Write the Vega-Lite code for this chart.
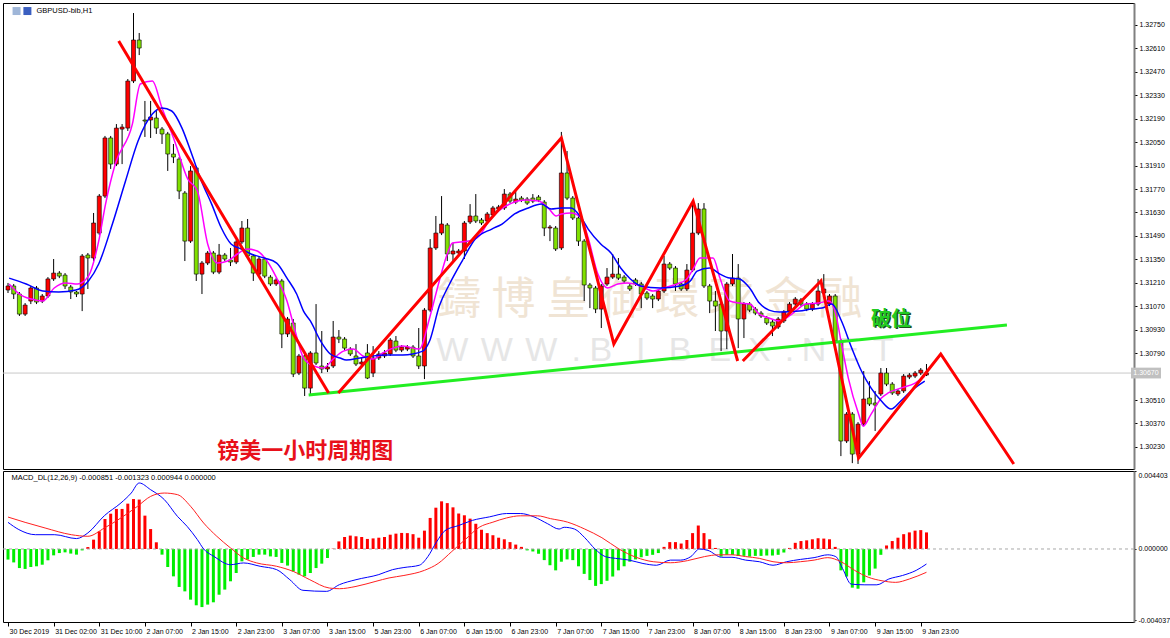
{
"$schema": "https://vega.github.io/schema/vega-lite/v6.json",
"background": "#ffffff",
"padding": {"left": 2, "top": 2, "right": 0, "bottom": 0},
"spacing": 2,
"bounds": "flush",
"resolve": {"scale": {"color": "independent"}},
"config": {
  "view": {"stroke": "#000000", "strokeWidth": 1},
  "axis": {"grid": false, "labelFont": "Liberation Sans", "labelFontSize": 7, "labelColor": "#000000", "tickColor": "#000000", "domainColor": "#808080", "title": null, "labelOverlap": false},
  "text": {"font": "Liberation Sans"}
},
"datasets": {
"candles": [
{"i":0,"o":1.31167,"h":1.31209,"l":1.31149,"c":1.31191},
{"i":1,"o":1.31191,"h":1.31203,"l":1.31113,"c":1.31143},
{"i":2,"o":1.31143,"h":1.31155,"l":1.31012,"c":1.31023},
{"i":3,"o":1.31023,"h":1.31089,"l":1.31012,"c":1.31077},
{"i":4,"o":1.31101,"h":1.31191,"l":1.31083,"c":1.31179},
{"i":5,"o":1.31179,"h":1.31191,"l":1.31083,"c":1.31095},
{"i":6,"o":1.31101,"h":1.31143,"l":1.31089,"c":1.31131},
{"i":7,"o":1.31131,"h":1.31244,"l":1.31119,"c":1.31233},
{"i":8,"o":1.31233,"h":1.31352,"l":1.31221,"c":1.31268},
{"i":9,"o":1.31268,"h":1.31280,"l":1.31238,"c":1.31250},
{"i":10,"o":1.31256,"h":1.31268,"l":1.31173,"c":1.31191},
{"i":11,"o":1.31185,"h":1.31197,"l":1.31113,"c":1.31155},
{"i":12,"o":1.31155,"h":1.31161,"l":1.31125,"c":1.31143},
{"i":13,"o":1.31143,"h":1.31382,"l":1.31041,"c":1.31370},
{"i":14,"o":1.31376,"h":1.31388,"l":1.31173,"c":1.31358},
{"i":15,"o":1.31358,"h":1.31627,"l":1.31340,"c":1.31567},
{"i":16,"o":1.31507,"h":1.31740,"l":1.31495,"c":1.31728},
{"i":17,"o":1.31728,"h":1.32087,"l":1.31716,"c":1.32075},
{"i":18,"o":1.32075,"h":1.32087,"l":1.31890,"c":1.31919},
{"i":19,"o":1.31919,"h":1.32158,"l":1.31907,"c":1.32134},
{"i":20,"o":1.32128,"h":1.32158,"l":1.31919,"c":1.32140},
{"i":21,"o":1.32134,"h":1.32427,"l":1.32117,"c":1.32415},
{"i":22,"o":1.32415,"h":1.32821,"l":1.32403,"c":1.32660},
{"i":23,"o":1.32660,"h":1.32702,"l":1.32570,"c":1.32612},
{"i":24,"o":1.32182,"h":1.32296,"l":1.32081,"c":1.32176},
{"i":25,"o":1.32182,"h":1.32296,"l":1.32075,"c":1.32200},
{"i":26,"o":1.32194,"h":1.32236,"l":1.32099,"c":1.32134},
{"i":27,"o":1.32128,"h":1.32140,"l":1.32039,"c":1.32099},
{"i":28,"o":1.32099,"h":1.32111,"l":1.31878,"c":1.31979},
{"i":29,"o":1.31979,"h":1.32039,"l":1.31925,"c":1.31961},
{"i":30,"o":1.31949,"h":1.31961,"l":1.31710,"c":1.31758},
{"i":31,"o":1.31746,"h":1.31758,"l":1.31340,"c":1.31459},
{"i":32,"o":1.31459,"h":1.31907,"l":1.31448,"c":1.31878},
{"i":33,"o":1.31896,"h":1.31907,"l":1.31221,"c":1.31262},
{"i":34,"o":1.31262,"h":1.31340,"l":1.31143,"c":1.31328},
{"i":35,"o":1.31328,"h":1.31400,"l":1.31316,"c":1.31388},
{"i":36,"o":1.31388,"h":1.31400,"l":1.31262,"c":1.31274},
{"i":37,"o":1.31274,"h":1.31442,"l":1.31262,"c":1.31376},
{"i":38,"o":1.31376,"h":1.31388,"l":1.31340,"c":1.31352},
{"i":39,"o":1.31346,"h":1.31418,"l":1.31310,"c":1.31334},
{"i":40,"o":1.31334,"h":1.31465,"l":1.31322,"c":1.31454},
{"i":41,"o":1.31454,"h":1.31579,"l":1.31442,"c":1.31537},
{"i":42,"o":1.31537,"h":1.31591,"l":1.31358,"c":1.31370},
{"i":43,"o":1.31370,"h":1.31382,"l":1.31221,"c":1.31268},
{"i":44,"o":1.31262,"h":1.31364,"l":1.31250,"c":1.31352},
{"i":45,"o":1.31352,"h":1.31364,"l":1.31238,"c":1.31250},
{"i":46,"o":1.31244,"h":1.31256,"l":1.31191,"c":1.31203},
{"i":47,"o":1.31203,"h":1.31238,"l":1.31191,"c":1.31227},
{"i":48,"o":1.31221,"h":1.31233,"l":1.30820,"c":1.30904},
{"i":49,"o":1.30904,"h":1.31006,"l":1.30886,"c":1.30994},
{"i":50,"o":1.30970,"h":1.30994,"l":1.30647,"c":1.30665},
{"i":51,"o":1.30671,"h":1.30785,"l":1.30659,"c":1.30773},
{"i":52,"o":1.30773,"h":1.30785,"l":1.30534,"c":1.30581},
{"i":53,"o":1.30581,"h":1.30802,"l":1.30546,"c":1.30791},
{"i":54,"o":1.30791,"h":1.31083,"l":1.30719,"c":1.30731},
{"i":55,"o":1.30713,"h":1.30922,"l":1.30671,"c":1.30695},
{"i":56,"o":1.30695,"h":1.30731,"l":1.30677,"c":1.30707},
{"i":57,"o":1.30713,"h":1.30982,"l":1.30701,"c":1.30886},
{"i":58,"o":1.30886,"h":1.30928,"l":1.30850,"c":1.30874},
{"i":59,"o":1.30874,"h":1.30886,"l":1.30808,"c":1.30820},
{"i":60,"o":1.30814,"h":1.30826,"l":1.30773,"c":1.30785},
{"i":61,"o":1.30773,"h":1.30844,"l":1.30713,"c":1.30725},
{"i":62,"o":1.30725,"h":1.30767,"l":1.30713,"c":1.30737},
{"i":63,"o":1.30791,"h":1.30844,"l":1.30635,"c":1.30641},
{"i":64,"o":1.30671,"h":1.30832,"l":1.30647,"c":1.30761},
{"i":65,"o":1.30761,"h":1.30802,"l":1.30749,"c":1.30785},
{"i":66,"o":1.30773,"h":1.30808,"l":1.30761,"c":1.30791},
{"i":67,"o":1.30785,"h":1.30880,"l":1.30773,"c":1.30868},
{"i":68,"o":1.30862,"h":1.30892,"l":1.30796,"c":1.30808},
{"i":69,"o":1.30808,"h":1.30838,"l":1.30796,"c":1.30826},
{"i":70,"o":1.30814,"h":1.30838,"l":1.30802,"c":1.30826},
{"i":71,"o":1.30826,"h":1.30838,"l":1.30761,"c":1.30773},
{"i":72,"o":1.30773,"h":1.30940,"l":1.30695,"c":1.30713},
{"i":73,"o":1.30713,"h":1.31059,"l":1.30635,"c":1.31047},
{"i":74,"o":1.31047,"h":1.31471,"l":1.31035,"c":1.31418},
{"i":75,"o":1.31418,"h":1.31609,"l":1.31406,"c":1.31507},
{"i":76,"o":1.31507,"h":1.31728,"l":1.31495,"c":1.31561},
{"i":77,"o":1.31555,"h":1.31567,"l":1.31340,"c":1.31382},
{"i":78,"o":1.31382,"h":1.31448,"l":1.31340,"c":1.31400},
{"i":79,"o":1.31388,"h":1.31412,"l":1.31376,"c":1.31400},
{"i":80,"o":1.31400,"h":1.31579,"l":1.31352,"c":1.31567},
{"i":81,"o":1.31573,"h":1.31680,"l":1.31561,"c":1.31609},
{"i":82,"o":1.31609,"h":1.31740,"l":1.31567,"c":1.31579},
{"i":83,"o":1.31585,"h":1.31597,"l":1.31555,"c":1.31567},
{"i":84,"o":1.31579,"h":1.31633,"l":1.31567,"c":1.31621},
{"i":85,"o":1.31615,"h":1.31669,"l":1.31603,"c":1.31657},
{"i":86,"o":1.31651,"h":1.31675,"l":1.31639,"c":1.31663},
{"i":87,"o":1.31657,"h":1.31770,"l":1.31645,"c":1.31740},
{"i":88,"o":1.31740,"h":1.31752,"l":1.31686,"c":1.31698},
{"i":89,"o":1.31692,"h":1.31758,"l":1.31680,"c":1.31710},
{"i":90,"o":1.31716,"h":1.31728,"l":1.31692,"c":1.31704},
{"i":91,"o":1.31710,"h":1.31722,"l":1.31675,"c":1.31686},
{"i":92,"o":1.31716,"h":1.31740,"l":1.31686,"c":1.31698},
{"i":93,"o":1.31722,"h":1.31734,"l":1.31692,"c":1.31704},
{"i":94,"o":1.31692,"h":1.31704,"l":1.31489,"c":1.31537},
{"i":95,"o":1.31537,"h":1.31555,"l":1.31459,"c":1.31543},
{"i":96,"o":1.31537,"h":1.31549,"l":1.31400,"c":1.31412},
{"i":97,"o":1.31418,"h":1.32111,"l":1.31406,"c":1.31866},
{"i":98,"o":1.31866,"h":1.31997,"l":1.31704,"c":1.31716},
{"i":99,"o":1.31716,"h":1.31728,"l":1.31585,"c":1.31597},
{"i":100,"o":1.31597,"h":1.31609,"l":1.31430,"c":1.31459},
{"i":101,"o":1.31459,"h":1.31471,"l":1.31101,"c":1.31197},
{"i":102,"o":1.31197,"h":1.31209,"l":1.31059,"c":1.31179},
{"i":103,"o":1.31179,"h":1.31191,"l":1.31029,"c":1.31053},
{"i":104,"o":1.31053,"h":1.31203,"l":1.30940,"c":1.31191},
{"i":105,"o":1.31203,"h":1.31298,"l":1.31191,"c":1.31244},
{"i":106,"o":1.31244,"h":1.31382,"l":1.31233,"c":1.31262},
{"i":107,"o":1.31262,"h":1.31358,"l":1.31227,"c":1.31238},
{"i":108,"o":1.31244,"h":1.31256,"l":1.31209,"c":1.31221},
{"i":109,"o":1.31191,"h":1.31203,"l":1.31161,"c":1.31173},
{"i":110,"o":1.31227,"h":1.31238,"l":1.31191,"c":1.31203},
{"i":111,"o":1.31203,"h":1.31215,"l":1.31059,"c":1.31143},
{"i":112,"o":1.31149,"h":1.31161,"l":1.31107,"c":1.31119},
{"i":113,"o":1.31131,"h":1.31143,"l":1.31059,"c":1.31113},
{"i":114,"o":1.31113,"h":1.31173,"l":1.31101,"c":1.31161},
{"i":115,"o":1.31161,"h":1.31370,"l":1.31149,"c":1.31322},
{"i":116,"o":1.31322,"h":1.31334,"l":1.31286,"c":1.31298},
{"i":117,"o":1.31298,"h":1.31310,"l":1.31161,"c":1.31203},
{"i":118,"o":1.31203,"h":1.31215,"l":1.31161,"c":1.31173},
{"i":119,"o":1.31173,"h":1.31322,"l":1.31161,"c":1.31286},
{"i":120,"o":1.31286,"h":1.31686,"l":1.31274,"c":1.31507},
{"i":121,"o":1.31507,"h":1.31686,"l":1.31495,"c":1.31651},
{"i":122,"o":1.31651,"h":1.31686,"l":1.31179,"c":1.31191},
{"i":123,"o":1.31191,"h":1.31203,"l":1.31029,"c":1.31101},
{"i":124,"o":1.31101,"h":1.31161,"l":1.30922,"c":1.31071},
{"i":125,"o":1.31083,"h":1.31101,"l":1.30802,"c":1.30922},
{"i":126,"o":1.30922,"h":1.31215,"l":1.30814,"c":1.31203},
{"i":127,"o":1.31203,"h":1.31382,"l":1.31191,"c":1.31238},
{"i":128,"o":1.31238,"h":1.31322,"l":1.30820,"c":1.30994},
{"i":129,"o":1.30994,"h":1.31095,"l":1.30880,"c":1.31083},
{"i":130,"o":1.31083,"h":1.31095,"l":1.31035,"c":1.31047},
{"i":131,"o":1.31053,"h":1.31065,"l":1.31017,"c":1.31029},
{"i":132,"o":1.31029,"h":1.31041,"l":1.31000,"c":1.31012},
{"i":133,"o":1.31000,"h":1.31012,"l":1.30958,"c":1.30970},
{"i":134,"o":1.30976,"h":1.30988,"l":1.30892,"c":1.30952},
{"i":135,"o":1.30946,"h":1.31006,"l":1.30934,"c":1.30994},
{"i":136,"o":1.30982,"h":1.31047,"l":1.30970,"c":1.31035},
{"i":137,"o":1.31041,"h":1.31095,"l":1.31029,"c":1.31083},
{"i":138,"o":1.31083,"h":1.31125,"l":1.31071,"c":1.31113},
{"i":139,"o":1.31107,"h":1.31119,"l":1.31071,"c":1.31083},
{"i":140,"o":1.31083,"h":1.31095,"l":1.31041,"c":1.31053},
{"i":141,"o":1.31053,"h":1.31095,"l":1.31041,"c":1.31083},
{"i":142,"o":1.31083,"h":1.31233,"l":1.31071,"c":1.31161},
{"i":143,"o":1.31149,"h":1.31262,"l":1.31137,"c":1.31173},
{"i":144,"o":1.31083,"h":1.31143,"l":1.31071,"c":1.31131},
{"i":145,"o":1.31131,"h":1.31143,"l":1.30850,"c":1.30862},
{"i":146,"o":1.30862,"h":1.30874,"l":1.30175,"c":1.30265},
{"i":147,"o":1.30265,"h":1.30438,"l":1.30253,"c":1.30426},
{"i":148,"o":1.30426,"h":1.30438,"l":1.30133,"c":1.30187},
{"i":149,"o":1.30187,"h":1.30378,"l":1.30128,"c":1.30366},
{"i":150,"o":1.30366,"h":1.30683,"l":1.30354,"c":1.30516},
{"i":151,"o":1.30522,"h":1.30623,"l":1.30474,"c":1.30486},
{"i":152,"o":1.30492,"h":1.30564,"l":1.30325,"c":1.30480},
{"i":153,"o":1.30546,"h":1.30701,"l":1.30534,"c":1.30671},
{"i":154,"o":1.30671,"h":1.30701,"l":1.30593,"c":1.30605},
{"i":155,"o":1.30605,"h":1.30617,"l":1.30540,"c":1.30552},
{"i":156,"o":1.30546,"h":1.30575,"l":1.30534,"c":1.30564},
{"i":157,"o":1.30564,"h":1.30665,"l":1.30552,"c":1.30653},
{"i":158,"o":1.30647,"h":1.30671,"l":1.30635,"c":1.30659},
{"i":159,"o":1.30653,"h":1.30683,"l":1.30641,"c":1.30671},
{"i":160,"o":1.30671,"h":1.30701,"l":1.30659,"c":1.30689},
{"i":161,"o":1.30659,"h":1.30725,"l":1.30653,"c":1.30671}
],
"ma": [
{"s":"fast","i":0.2,"p":1.31203},{"s":"fast","i":2.0,"p":1.31143},{"s":"fast","i":4.1,"p":1.31113},{"s":"fast","i":6.1,"p":1.31101},{"s":"fast","i":8.1,"p":1.31179},{"s":"fast","i":10.1,"p":1.31209},{"s":"fast","i":12.2,"p":1.31203},{"s":"fast","i":14.1,"p":1.31250},{"s":"fast","i":15.9,"p":1.31459},{"s":"fast","i":17.1,"p":1.31680},{"s":"fast","i":18.8,"p":1.31919},{"s":"fast","i":21.8,"p":1.32158},{"s":"fast","i":23.2,"p":1.32397},{"s":"fast","i":25.3,"p":1.32415},{"s":"fast","i":27.0,"p":1.32254},{"s":"fast","i":29.2,"p":1.32057},{"s":"fast","i":31.5,"p":1.31830},{"s":"fast","i":33.2,"p":1.31758},{"s":"fast","i":35.0,"p":1.31442},{"s":"fast","i":36.7,"p":1.31328},{"s":"fast","i":38.5,"p":1.31340},{"s":"fast","i":40.2,"p":1.31382},{"s":"fast","i":41.9,"p":1.31412},{"s":"fast","i":43.7,"p":1.31400},{"s":"fast","i":45.4,"p":1.31340},{"s":"fast","i":47.1,"p":1.31238},{"s":"fast","i":48.9,"p":1.31101},{"s":"fast","i":50.1,"p":1.30952},{"s":"fast","i":51.8,"p":1.30761},{"s":"fast","i":53.6,"p":1.30713},{"s":"fast","i":55.3,"p":1.30701},{"s":"fast","i":57.0,"p":1.30755},{"s":"fast","i":58.8,"p":1.30802},{"s":"fast","i":60.5,"p":1.30814},{"s":"fast","i":62.2,"p":1.30773},{"s":"fast","i":64.0,"p":1.30755},{"s":"fast","i":65.7,"p":1.30791},{"s":"fast","i":67.5,"p":1.30820},{"s":"fast","i":69.2,"p":1.30832},{"s":"fast","i":72.1,"p":1.30814},{"s":"fast","i":73.9,"p":1.31000},{"s":"fast","i":75.6,"p":1.31221},{"s":"fast","i":77.0,"p":1.31382},{"s":"fast","i":77.9,"p":1.31448},{"s":"fast","i":80.8,"p":1.31459},{"s":"fast","i":82.6,"p":1.31489},{"s":"fast","i":84.3,"p":1.31579},{"s":"fast","i":86.0,"p":1.31639},{"s":"fast","i":88.3,"p":1.31686},{"s":"fast","i":90.6,"p":1.31704},{"s":"fast","i":93.0,"p":1.31698},{"s":"fast","i":94.7,"p":1.31657},{"s":"fast","i":96.1,"p":1.31609},{"s":"fast","i":97.0,"p":1.31621},{"s":"fast","i":98.7,"p":1.31627},{"s":"fast","i":100.5,"p":1.31597},{"s":"fast","i":101.7,"p":1.31477},{"s":"fast","i":103.4,"p":1.31262},{"s":"fast","i":105.1,"p":1.31179},{"s":"fast","i":106.9,"p":1.31203},{"s":"fast","i":108.6,"p":1.31209},{"s":"fast","i":110.9,"p":1.31191},{"s":"fast","i":113.1,"p":1.31161},{"s":"fast","i":114.9,"p":1.31179},{"s":"fast","i":117.3,"p":1.31203},{"s":"fast","i":119.0,"p":1.31233},{"s":"fast","i":120.1,"p":1.31292},{"s":"fast","i":121.3,"p":1.31358},{"s":"fast","i":123.6,"p":1.31358},{"s":"fast","i":124.8,"p":1.31238},{"s":"fast","i":126.5,"p":1.31101},{"s":"fast","i":128.2,"p":1.31089},{"s":"fast","i":130.0,"p":1.31083},{"s":"fast","i":131.7,"p":1.31023},{"s":"fast","i":133.4,"p":1.31000},{"s":"fast","i":135.2,"p":1.30982},{"s":"fast","i":137.4,"p":1.31023},{"s":"fast","i":139.9,"p":1.31083},{"s":"fast","i":142.1,"p":1.31089},{"s":"fast","i":143.9,"p":1.31101},{"s":"fast","i":145.1,"p":1.31023},{"s":"fast","i":146.1,"p":1.30844},{"s":"fast","i":147.3,"p":1.30641},{"s":"fast","i":149.1,"p":1.30426},{"s":"fast","i":149.9,"p":1.30354},{"s":"fast","i":151.3,"p":1.30426},{"s":"fast","i":153.1,"p":1.30522},{"s":"fast","i":154.3,"p":1.30552},{"s":"fast","i":156.5,"p":1.30581},{"s":"fast","i":159.0,"p":1.30611},{"s":"fast","i":160.7,"p":1.30653},
{"s":"slow","i":0.2,"p":1.31238},{"s":"slow","i":3.2,"p":1.31203},{"s":"slow","i":6.1,"p":1.31161},{"s":"slow","i":8.9,"p":1.31155},{"s":"slow","i":11.9,"p":1.31167},{"s":"slow","i":14.1,"p":1.31221},{"s":"slow","i":15.9,"p":1.31322},{"s":"slow","i":18.3,"p":1.31561},{"s":"slow","i":20.6,"p":1.31818},{"s":"slow","i":22.8,"p":1.32057},{"s":"slow","i":25.3,"p":1.32218},{"s":"slow","i":27.0,"p":1.32254},{"s":"slow","i":28.7,"p":1.32236},{"s":"slow","i":30.5,"p":1.32134},{"s":"slow","i":32.2,"p":1.31979},{"s":"slow","i":33.9,"p":1.31818},{"s":"slow","i":35.7,"p":1.31680},{"s":"slow","i":37.4,"p":1.31537},{"s":"slow","i":39.1,"p":1.31442},{"s":"slow","i":40.9,"p":1.31412},{"s":"slow","i":42.6,"p":1.31382},{"s":"slow","i":44.9,"p":1.31358},{"s":"slow","i":47.1,"p":1.31328},{"s":"slow","i":48.9,"p":1.31238},{"s":"slow","i":50.6,"p":1.31143},{"s":"slow","i":51.8,"p":1.31041},{"s":"slow","i":53.0,"p":1.30982},{"s":"slow","i":54.8,"p":1.30862},{"s":"slow","i":56.5,"p":1.30785},{"s":"slow","i":58.2,"p":1.30761},{"s":"slow","i":59.3,"p":1.30749},{"s":"slow","i":61.7,"p":1.30761},{"s":"slow","i":64.0,"p":1.30773},{"s":"slow","i":66.2,"p":1.30779},{"s":"slow","i":69.2,"p":1.30779},{"s":"slow","i":72.7,"p":1.30802},{"s":"slow","i":73.9,"p":1.30862},{"s":"slow","i":75.6,"p":1.31071},{"s":"slow","i":77.4,"p":1.31203},{"s":"slow","i":79.6,"p":1.31340},{"s":"slow","i":81.9,"p":1.31471},{"s":"slow","i":84.8,"p":1.31531},{"s":"slow","i":86.6,"p":1.31561},{"s":"slow","i":88.8,"p":1.31621},{"s":"slow","i":91.2,"p":1.31657},{"s":"slow","i":93.5,"p":1.31680},{"s":"slow","i":95.2,"p":1.31651},{"s":"slow","i":97.0,"p":1.31657},{"s":"slow","i":98.7,"p":1.31657},{"s":"slow","i":100.5,"p":1.31597},{"s":"slow","i":101.7,"p":1.31531},{"s":"slow","i":103.9,"p":1.31442},{"s":"slow","i":105.7,"p":1.31388},{"s":"slow","i":107.4,"p":1.31298},{"s":"slow","i":109.1,"p":1.31233},{"s":"slow","i":110.9,"p":1.31191},{"s":"slow","i":114.3,"p":1.31179},{"s":"slow","i":117.8,"p":1.31191},{"s":"slow","i":119.6,"p":1.31221},{"s":"slow","i":120.8,"p":1.31280},{"s":"slow","i":123.0,"p":1.31298},{"s":"slow","i":124.8,"p":1.31262},{"s":"slow","i":126.5,"p":1.31238},{"s":"slow","i":128.2,"p":1.31233},{"s":"slow","i":130.0,"p":1.31179},{"s":"slow","i":131.7,"p":1.31089},{"s":"slow","i":133.4,"p":1.31047},{"s":"slow","i":135.2,"p":1.31035},{"s":"slow","i":138.7,"p":1.31041},{"s":"slow","i":140.9,"p":1.31053},{"s":"slow","i":142.7,"p":1.31059},{"s":"slow","i":144.4,"p":1.31083},{"s":"slow","i":146.1,"p":1.30982},{"s":"slow","i":147.9,"p":1.30820},{"s":"slow","i":149.6,"p":1.30683},{"s":"slow","i":151.3,"p":1.30581},{"s":"slow","i":153.1,"p":1.30504},{"s":"slow","i":154.8,"p":1.30456},{"s":"slow","i":156.5,"p":1.30504},{"s":"slow","i":158.3,"p":1.30564},{"s":"slow","i":160.7,"p":1.30623}
],
"zig": [
{"g":"A","i":19.4,"p":1.32654},{"g":"A","i":56.2,"p":1.30552},
{"g":"B","i":57.9,"p":1.30552},{"g":"B","i":97.0,"p":1.32075},{"g":"B","i":106.2,"p":1.30844},{"g":"B","i":120.1,"p":1.31698},{"g":"B","i":127.9,"p":1.30743},
{"g":"C","i":128.8,"p":1.30743},{"g":"C","i":142.5,"p":1.31221},{"g":"C","i":149.1,"p":1.30163},{"g":"C","i":163.5,"p":1.30785},{"g":"C","i":176.3,"p":1.30128}
],
"trend": [{"i":52.7,"p":1.30540},{"i":175.1,"p":1.30958}],
"wmc": [
{"t":"鑄","i":79.1,"p":1.31101},{"t":"博","i":88.6,"p":1.31101},{"t":"皇","i":98.2,"p":1.31101},{"t":"御","i":107.7,"p":1.31101},{"t":"環","i":117.3,"p":1.31101},{"t":"球","i":126.8,"p":1.31101},{"t":"金","i":136.4,"p":1.31101},{"t":"融","i":145.9,"p":1.31101}
],
"wml": [
{"t":"W","i":77.9,"p":1.30802},{"t":"W","i":85.7,"p":1.30802},{"t":"W","i":93.5,"p":1.30802},{"t":".","i":99.6,"p":1.30802},{"t":"B","i":103.9,"p":1.30802},{"t":"I","i":110.9,"p":1.30802},{"t":"B","i":117.8,"p":1.30802},{"t":"E","i":124.8,"p":1.30802},{"t":"X","i":131.7,"p":1.30802},{"t":".","i":137.0,"p":1.30802},{"t":"N","i":141.3,"p":1.30802},{"t":"E","i":147.3,"p":1.30802},{"t":"T","i":153.4,"p":1.30802}
],
"macdh": [
{"i":0,"h":-0.0006},{"i":1,"h":-0.00076},{"i":2,"h":-0.00108},{"i":3,"h":-0.00113},{"i":4,"h":-0.00102},{"i":5,"h":-0.00098},{"i":6,"h":-0.00089},{"i":7,"h":-0.00064},{"i":8,"h":-0.00036},{"i":9,"h":-0.00023},{"i":10,"h":-0.00019},{"i":11,"h":-0.00026},{"i":12,"h":-0.00032},{"i":13,"h":-0.00008},{"i":14,"h":0.00011},{"i":15,"h":0.00053},{"i":16,"h":0.001},{"i":17,"h":0.0017},{"i":18,"h":0.002},{"i":19,"h":0.00227},{"i":20,"h":0.00227},{"i":21,"h":0.00257},{"i":22,"h":0.00283},{"i":23,"h":0.0028},{"i":24,"h":0.00189},{"i":25,"h":0.00113},{"i":26,"h":0.00038},{"i":27,"h":-0.00032},{"i":28,"h":-0.00102},{"i":29,"h":-0.00155},{"i":30,"h":-0.00215},{"i":31,"h":-0.0024},{"i":32,"h":-0.00287},{"i":33,"h":-0.00319},{"i":34,"h":-0.00329},{"i":35,"h":-0.00315},{"i":36,"h":-0.00302},{"i":37,"h":-0.00259},{"i":38,"h":-0.0023},{"i":39,"h":-0.00183},{"i":40,"h":-0.00136},{"i":41,"h":-0.0007},{"i":42,"h":-0.0006},{"i":43,"h":-0.00045},{"i":44,"h":-0.00032},{"i":45,"h":-0.00032},{"i":46,"h":-0.00042},{"i":47,"h":-0.00045},{"i":48,"h":-0.00079},{"i":49,"h":-0.00094},{"i":50,"h":-0.00127},{"i":51,"h":-0.00145},{"i":52,"h":-0.00155},{"i":53,"h":-0.00136},{"i":54,"h":-0.00108},{"i":55,"h":-0.00083},{"i":56,"h":-0.00051},{"i":57,"h":0.00002},{"i":58,"h":0.00043},{"i":59,"h":0.00068},{"i":60,"h":0.00076},{"i":61,"h":0.00072},{"i":62,"h":0.00068},{"i":63,"h":0.00057},{"i":64,"h":0.0006},{"i":65,"h":0.00064},{"i":66,"h":0.00068},{"i":67,"h":0.00081},{"i":68,"h":0.00087},{"i":69,"h":0.00091},
{"i":70,"h":0.0009},{"i":71,"h":0.00084},{"i":72,"h":0.00064},{"i":73,"h":0.00104},{"i":74,"h":0.00176},{"i":75,"h":0.00234},{"i":76,"h":0.0027},{"i":77,"h":0.0026},{"i":78,"h":0.00236},{"i":79,"h":0.00201},{"i":80,"h":0.00191},{"i":81,"h":0.00172},{"i":82,"h":0.00143},{"i":83,"h":0.00109},{"i":84,"h":0.0009},{"i":85,"h":0.00078},{"i":86,"h":0.00064},{"i":87,"h":0.00055},{"i":88,"h":0.00039},{"i":89,"h":0.00025},{"i":90,"h":0.00012},{"i":91,"h":-0.00008},{"i":92,"h":-0.00014},{"i":93,"h":-0.00027},{"i":94,"h":-0.00063},{"i":95,"h":-0.00092},{"i":96,"h":-0.00121},{"i":97,"h":-0.00072},{"i":98,"h":-0.00059},{"i":99,"h":-0.00063},{"i":100,"h":-0.00098},{"i":101,"h":-0.00141},{"i":102,"h":-0.00176},{"i":103,"h":-0.00209},{"i":104,"h":-0.00199},{"i":105,"h":-0.0018},{"i":106,"h":-0.00156},{"i":107,"h":-0.00121},{"i":108,"h":-0.00098},{"i":109,"h":-0.00072},{"i":110,"h":-0.00059},{"i":111,"h":-0.00047},{"i":112,"h":-0.00039},{"i":113,"h":-0.00033},{"i":114,"h":-0.00023},{"i":115,"h":0.00012},{"i":116,"h":0.00039},{"i":117,"h":0.00039},{"i":118,"h":0.00031},{"i":119,"h":0.00051},{"i":120,"h":0.0009},{"i":121,"h":0.00133},{"i":122,"h":0.0009},{"i":123,"h":0.00055},{"i":124,"h":0.00006},{"i":125,"h":-0.00043},{"i":126,"h":-0.00033},{"i":127,"h":-0.00033},{"i":128,"h":-0.00039},{"i":129,"h":-0.00039},{"i":130,"h":-0.00043},{"i":131,"h":-0.00039},{"i":132,"h":-0.00039},{"i":133,"h":-0.00037},{"i":134,"h":-0.00037},{"i":135,"h":-0.00033},{"i":136,"h":-0.0002},{"i":137,"h":0.00006},{"i":138,"h":0.00035},{"i":139,"h":0.00045},{"i":140,"h":0.00049},{"i":141,"h":0.00055},{"i":142,"h":0.00061},{"i":143,"h":0.00059},{"i":144,"h":0.00055},{"i":145,"h":0.00012},{"i":146,"h":-0.00121},{"i":147,"h":-0.00156},{"i":148,"h":-0.00219},{"i":149,"h":-0.00225},{"i":150,"h":-0.00189},{"i":151,"h":-0.0015},{"i":152,"h":-0.00111},{"i":153,"h":-0.00033},{"i":154,"h":0.0002},{"i":155,"h":0.00045},{"i":156,"h":0.00064},{"i":157,"h":0.00084},{"i":158,"h":0.00094},{"i":159,"h":0.00104},{"i":160,"h":0.00107},{"i":161,"h":0.00094}
],
"macdl": [
{"s":"macd","i":0,"v":0.00151},{"s":"macd","i":1.9,"v":0.0011},{"s":"macd","i":4.8,"v":0.00081},{"s":"macd","i":8.2,"v":0.00081},{"s":"macd","i":12.0,"v":0.00059},{"s":"macd","i":14.0,"v":0.00091},{"s":"macd","i":16.9,"v":0.00189},{"s":"macd","i":19.8,"v":0.00261},{"s":"macd","i":21.6,"v":0.00317},{"s":"macd","i":23.0,"v":0.00374},{"s":"macd","i":25.0,"v":0.00336},{"s":"macd","i":27.4,"v":0.0028},{"s":"macd","i":29.7,"v":0.00185},{"s":"macd","i":31.4,"v":0.00128},{"s":"macd","i":33.2,"v":0.00053},{"s":"macd","i":34.3,"v":0.0},{"s":"macd","i":36.1,"v":-0.00042},{"s":"macd","i":39.0,"v":-0.00089},{"s":"macd","i":41.3,"v":-0.00079},{"s":"macd","i":44.2,"v":-0.00098},{"s":"macd","i":47.1,"v":-0.00117},{"s":"macd","i":49.4,"v":-0.00174},{"s":"macd","i":51.7,"v":-0.00234},{"s":"macd","i":55.8,"v":-0.0024},{"s":"macd","i":58.1,"v":-0.00202},{"s":"macd","i":61.0,"v":-0.00174},{"s":"macd","i":65.0,"v":-0.00145},{"s":"macd","i":67.4,"v":-0.00117},{"s":"macd","i":69.4,"v":-0.00105},{"s":"macd","i":72.1,"v":-0.00092},{"s":"macd","i":73.6,"v":-0.00043},{"s":"macd","i":75.1,"v":0.00039},{"s":"macd","i":76.6,"v":0.00104},{"s":"macd","i":79.0,"v":0.00133},{"s":"macd","i":81.4,"v":0.00162},{"s":"macd","i":84.4,"v":0.00182},{"s":"macd","i":87.4,"v":0.00201},{"s":"macd","i":89.8,"v":0.00201},{"s":"macd","i":92.2,"v":0.00182},{"s":"macd","i":94.6,"v":0.00143},{"s":"macd","i":96.6,"v":0.00113},{"s":"macd","i":97.5,"v":0.00123},{"s":"macd","i":99.3,"v":0.00113},{"s":"macd","i":101.1,"v":0.00064},{"s":"macd","i":102.9,"v":0.0},{"s":"macd","i":104.7,"v":-0.00043},{"s":"macd","i":106.5,"v":-0.00053},{"s":"macd","i":108.9,"v":-0.00063},{"s":"macd","i":111.3,"v":-0.00082},{"s":"macd","i":113.7,"v":-0.00092},{"s":"macd","i":116.1,"v":-0.00063},{"s":"macd","i":117.9,"v":-0.00063},{"s":"macd","i":119.7,"v":-0.00043},{"s":"macd","i":121.2,"v":0.0},{"s":"macd","i":122.7,"v":-0.00008},{"s":"macd","i":125.1,"v":-0.00047},{"s":"macd","i":126.9,"v":-0.00047},{"s":"macd","i":129.3,"v":-0.00063},{"s":"macd","i":131.7,"v":-0.00072},{"s":"macd","i":134.1,"v":-0.00092},{"s":"macd","i":136.5,"v":-0.00072},{"s":"macd","i":138.9,"v":-0.00059},{"s":"macd","i":141.3,"v":-0.00049},{"s":"macd","i":143.7,"v":-0.00033},{"s":"macd","i":145.1,"v":-0.00043},{"s":"macd","i":146.3,"v":-0.00111},{"s":"macd","i":147.8,"v":-0.00199},{"s":"macd","i":150.2,"v":-0.00203},{"s":"macd","i":152.3,"v":-0.00203},{"s":"macd","i":154.4,"v":-0.0017},{"s":"macd","i":156.8,"v":-0.0015},{"s":"macd","i":159.2,"v":-0.00121},{"s":"macd","i":161.0,"v":-0.00085},
{"s":"signal","i":0,"v":0.00181},{"s":"signal","i":3.0,"v":0.00151},{"s":"signal","i":6.5,"v":0.00119},{"s":"signal","i":11.1,"v":0.00081},{"s":"signal","i":14.0,"v":0.00072},{"s":"signal","i":16.9,"v":0.00119},{"s":"signal","i":19.8,"v":0.00176},{"s":"signal","i":22.7,"v":0.00242},{"s":"signal","i":25.0,"v":0.00298},{"s":"signal","i":27.4,"v":0.00317},{"s":"signal","i":29.7,"v":0.00308},{"s":"signal","i":32.0,"v":0.00242},{"s":"signal","i":34.3,"v":0.00147},{"s":"signal","i":36.6,"v":0.00072},{"s":"signal","i":39.0,"v":0.00006},{"s":"signal","i":41.3,"v":-0.00051},{"s":"signal","i":43.6,"v":-0.00079},{"s":"signal","i":47.1,"v":-0.00098},{"s":"signal","i":50.0,"v":-0.00127},{"s":"signal","i":52.9,"v":-0.00174},{"s":"signal","i":56.3,"v":-0.00221},{"s":"signal","i":58.1,"v":-0.00225},{"s":"signal","i":61.0,"v":-0.00212},{"s":"signal","i":64.5,"v":-0.00183},{"s":"signal","i":66.8,"v":-0.00164},{"s":"signal","i":69.4,"v":-0.0015},{"s":"signal","i":73.0,"v":-0.00121},{"s":"signal","i":75.4,"v":-0.00082},{"s":"signal","i":77.8,"v":-0.00014},{"s":"signal","i":80.2,"v":0.00055},{"s":"signal","i":82.6,"v":0.00123},{"s":"signal","i":85.0,"v":0.00152},{"s":"signal","i":87.4,"v":0.00176},{"s":"signal","i":89.8,"v":0.00188},{"s":"signal","i":92.8,"v":0.00188},{"s":"signal","i":95.1,"v":0.00172},{"s":"signal","i":98.1,"v":0.00152},{"s":"signal","i":101.1,"v":0.00113},{"s":"signal","i":104.1,"v":0.00064},{"s":"signal","i":107.1,"v":0.0},{"s":"signal","i":110.1,"v":-0.00047},{"s":"signal","i":113.1,"v":-0.00072},{"s":"signal","i":116.1,"v":-0.00078},{"s":"signal","i":119.1,"v":-0.00066},{"s":"signal","i":122.1,"v":-0.00043},{"s":"signal","i":124.5,"v":-0.00033},{"s":"signal","i":126.9,"v":-0.00033},{"s":"signal","i":129.3,"v":-0.00043},{"s":"signal","i":131.7,"v":-0.00053},{"s":"signal","i":134.1,"v":-0.00072},{"s":"signal","i":136.5,"v":-0.00078},{"s":"signal","i":138.9,"v":-0.00072},{"s":"signal","i":141.3,"v":-0.00063},{"s":"signal","i":143.7,"v":-0.00049},{"s":"signal","i":146.0,"v":-0.00072},{"s":"signal","i":148.4,"v":-0.00121},{"s":"signal","i":150.8,"v":-0.0016},{"s":"signal","i":153.2,"v":-0.0018},{"s":"signal","i":155.6,"v":-0.00189},{"s":"signal","i":158.0,"v":-0.0017},{"s":"signal","i":161.0,"v":-0.00132}
]
},
"vconcat": [
{
"width": 1131, "height": 466,
"layer": [
{"data": {"name": "wmc"}, "mark": {"type": "text", "font": "Noto Sans CJK TC", "fontSize": 44, "color": "#f0e4d4"},
 "encoding": {"x": {"field": "i", "type": "quantitative", "scale": {"domain": [0, 196.5], "nice": false, "zero": false}, "axis": null},
  "y": {"field": "p", "type": "quantitative", "scale": {"domain": [1.30098, 1.32881], "nice": false, "zero": false},
   "axis": {"orient": "right", "title": null, "values": [1.3023,1.3037,1.3051,1.3079,1.3093,1.3107,1.3121,1.3135,1.3149,1.3163,1.3177,1.3191,1.3205,1.3219,1.3233,1.3247,1.3261,1.3275], "tickCount": 40, "format": ".5f", "tickSize": 3, "labelPadding": 2, "domainWidth": 2, "labelOverlap": false}},
  "text": {"field": "t"}}},
{"data": {"name": "wml"}, "mark": {"type": "text", "font": "Liberation Sans", "fontSize": 34, "color": "#e6e6e6"},
 "encoding": {"x": {"field": "i", "type": "quantitative", "axis": null},
  "y": {"field": "p", "type": "quantitative"}, "text": {"field": "t"}}},
{"data": {"values": [{"p": 1.30671}]}, "mark": {"type": "rule", "color": "#c8c8c8", "strokeWidth": 1},
 "encoding": {"y": {"field": "p", "type": "quantitative"}}},
{"data": {"name": "candles"}, "mark": {"type": "rule", "color": "#000000", "strokeWidth": 1},
 "encoding": {"x": {"field": "i", "type": "quantitative", "axis": null},
  "y": {"field": "l", "type": "quantitative"}, "y2": {"field": "h"}}},
{"data": {"name": "candles"}, "mark": {"type": "bar", "size": 4, "stroke": "#000000", "strokeWidth": 0.6},
 "encoding": {"x": {"field": "i", "type": "quantitative", "axis": null},
  "y": {"field": "o", "type": "quantitative"}, "y2": {"field": "c"},
  "color": {"condition": {"test": "datum.c >= datum.o", "value": "#ff0000"}, "value": "#80e000"}}},
{"data": {"name": "ma"}, "mark": {"type": "line", "strokeWidth": 1.5, "interpolate": "monotone"},
 "encoding": {"x": {"field": "i", "type": "quantitative", "axis": null},
  "y": {"field": "p", "type": "quantitative"},
  "color": {"field": "s", "type": "nominal", "scale": {"domain": ["fast", "slow"], "range": ["#ff00ff", "#0000ff"]}, "legend": null}}},
{"data": {"name": "trend"}, "mark": {"type": "line", "color": "#22ee22", "strokeWidth": 3},
 "encoding": {"x": {"field": "i", "type": "quantitative", "axis": null},
  "y": {"field": "p", "type": "quantitative"}}},
{"data": {"name": "zig"}, "mark": {"type": "line", "color": "#ff0000", "strokeWidth": 3},
 "encoding": {"x": {"field": "i", "type": "quantitative", "axis": null},
  "y": {"field": "p", "type": "quantitative"}, "detail": {"field": "g"}}},
{"data": {"values": [{"t": "破位", "i": 154.8, "p": 1.30988}]}, "mark": {"type": "text", "font": "Noto Sans CJK SC", "fontWeight": "bold", "fontSize": 20, "color": "#1f4f1f", "dx": 1.5, "dy": 1.5},
 "encoding": {"x": {"field": "i", "type": "quantitative", "axis": null},
  "y": {"field": "p", "type": "quantitative"}, "text": {"field": "t"}}},
{"data": {"values": [{"t": "破位", "i": 154.8, "p": 1.30988}]}, "mark": {"type": "text", "font": "Noto Sans CJK SC", "fontWeight": "bold", "fontSize": 20, "color": "#22cc22"},
 "encoding": {"x": {"field": "i", "type": "quantitative", "axis": null},
  "y": {"field": "p", "type": "quantitative"}, "text": {"field": "t"}}},
{"data": {"values": [{"t": "镑美一小时周期图", "i": 36.7, "p": 1.30205}]}, "mark": {"type": "text", "font": "Noto Sans CJK SC", "fontWeight": "bold", "fontSize": 22, "color": "#e8101a", "align": "left"},
 "encoding": {"x": {"field": "i", "type": "quantitative", "axis": null},
  "y": {"field": "p", "type": "quantitative"}, "text": {"field": "t"}}},
{"data": {"values": [{"t": "GBPUSD-bib,H1", "i": 5.0, "p": 1.32833}]}, "mark": {"type": "text", "fontSize": 7.5, "color": "#000000", "align": "left"},
 "encoding": {"x": {"field": "i", "type": "quantitative", "axis": null},
  "y": {"field": "p", "type": "quantitative"}, "text": {"field": "t"}}},
{"data": {"values": [{"n": "chart", "i": 1.5, "p": 1.32833}, {"n": "bars", "i": 3.4, "p": 1.32833}]}, "mark": {"type": "square", "size": 64, "filled": true, "opacity": 1},
 "encoding": {"x": {"field": "i", "type": "quantitative", "axis": null},
  "y": {"field": "p", "type": "quantitative"},
  "color": {"field": "n", "type": "nominal", "scale": {"domain": ["chart", "bars"], "range": ["#9fb6d8", "#3b5fc0"]}, "legend": null}}},
{"data": {"values": [{"i": 196.5, "p": 1.30671}]}, "mark": {"type": "point", "shape": "M-1,-0.36H1V0.36H-1Z", "size": 900, "filled": true, "color": "#c0c0c0", "opacity": 1, "xOffset": 17},
 "encoding": {"x": {"field": "i", "type": "quantitative", "axis": null},
  "y": {"field": "p", "type": "quantitative"}}},
{"data": {"values": [{"t": "1.30670", "i": 196.5, "p": 1.30671}]}, "mark": {"type": "text", "fontSize": 7, "color": "#ffffff", "dx": 17},
 "encoding": {"x": {"field": "i", "type": "quantitative", "axis": null},
  "y": {"field": "p", "type": "quantitative"}, "text": {"field": "t"}}}
],
"resolve": {"scale": {"color": "independent"}}
},
{
"width": 1131, "height": 151,
"layer": [
{"data": {"name": "macdh"}, "mark": {"type": "bar", "size": 3},
 "encoding": {"x": {"field": "i", "type": "quantitative", "scale": {"domain": [0, 196.5], "nice": false, "zero": false},
   "axis": {"orient": "bottom", "title": null, "values": [0,8,16,24,32,40,48,56,64,72,80,88,96,104,112,120,128,136,144,152,160], "tickCount": 40, "labelExpr": "['30 Dec 2019','31 Dec 02:00','31 Dec 10:00','2 Jan 07:00','2 Jan 15:00','2 Jan 23:00','3 Jan 07:00','3 Jan 15:00','5 Jan 23:00','6 Jan 07:00','6 Jan 15:00','6 Jan 23:00','7 Jan 07:00','7 Jan 15:00','7 Jan 23:00','8 Jan 07:00','8 Jan 15:00','8 Jan 23:00','9 Jan 07:00','9 Jan 15:00','9 Jan 23:00'][round(datum.value/8)]", "labelAlign": "left", "labelFlush": false, "labelOverlap": false, "labelOffset": 1, "labelPadding": 1, "tickSize": 4, "domain": false}},
  "y": {"field": "h", "type": "quantitative", "scale": {"domain": [-0.004136, 0.004419], "nice": false, "zero": false},
   "axis": {"orient": "right", "title": null, "values": [0.004403, 0, -0.004037], "labelExpr": "datum.value == 0 ? '0.000000' : (datum.value > 0 ? '0.004403' : '-0.004037')", "labelBaseline": {"condition": {"test": "datum.value > 0", "value": "top"}, "value": "middle"}, "labelOverlap": false, "tickSize": 2, "labelPadding": 2, "domainWidth": 2}},
  "y2": {"datum": 0},
  "color": {"condition": {"test": "datum.h >= 0", "value": "#ff0000"}, "value": "#00ee00"}}},
{"data": {"values": [{"v": 0}]}, "mark": {"type": "rule", "color": "#a8a8a8", "strokeDash": [3, 3], "strokeWidth": 1},
 "encoding": {"y": {"field": "v", "type": "quantitative"}}},
{"data": {"name": "macdl"}, "mark": {"type": "line", "strokeWidth": 1, "interpolate": "monotone"},
 "encoding": {"x": {"field": "i", "type": "quantitative"},
  "y": {"field": "v", "type": "quantitative"},
  "color": {"field": "s", "type": "nominal", "scale": {"domain": ["macd", "signal"], "range": ["#0000ff", "#ff2020"]}, "legend": null}}},
{"data": {"values": [{"t": "MACD_DL(12,26,9) -0.000851 -0.001323 0.000944 0.000000", "i": 0.6, "v": 0.00402}]}, "mark": {"type": "text", "fontSize": 7.5, "color": "#000000", "align": "left"},
 "encoding": {"x": {"field": "i", "type": "quantitative"},
  "y": {"field": "v", "type": "quantitative"}, "text": {"field": "t"}}}
]
}
]
}
